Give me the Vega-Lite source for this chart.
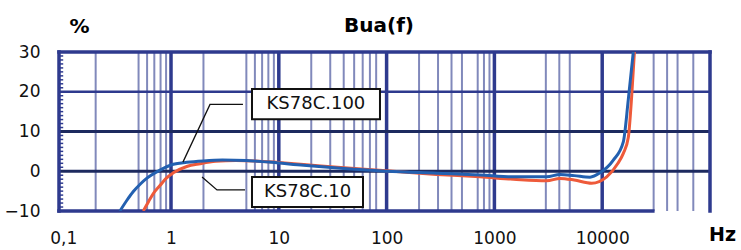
{
  "$schema": "https://vega.github.io/schema/vega-lite/v6.json",
  "width": 651,
  "height": 159,
  "autosize": "none",
  "padding": {"left": 59, "top": 52, "right": 31, "bottom": 39},
  "background": "white",
  "config": {
    "view": {"stroke": null},
    "axis": {"grid": false, "domain": false, "ticks": false, "labelFont": "DejaVu Sans", "labelFontSize": 17, "labelColor": "#111111", "titleFont": "DejaVu Sans", "titleFontWeight": "bold", "titleColor": "#000000"}
  },
  "datasets": {
    "minor": [
      {"f": 0.2, "v": -10, "v2": 30}, {"f": 0.5, "v": -10, "v2": 30}, {"f": 0.6, "v": -10, "v2": 30}, {"f": 0.7, "v": -10, "v2": 30}, {"f": 0.8, "v": -10, "v2": 30}, {"f": 0.9, "v": -10, "v2": 30},
      {"f": 2, "v": -10, "v2": 30}, {"f": 5, "v": -10, "v2": 30}, {"f": 6, "v": -10, "v2": 30}, {"f": 7, "v": -10, "v2": 30}, {"f": 8, "v": -10, "v2": 30}, {"f": 9, "v": -10, "v2": 30},
      {"f": 20, "v": -10, "v2": 30}, {"f": 30, "v": -10, "v2": 30}, {"f": 40, "v": -10, "v2": 30}, {"f": 50, "v": -10, "v2": 30}, {"f": 60, "v": -10, "v2": 30}, {"f": 70, "v": -10, "v2": 30}, {"f": 80, "v": -10, "v2": 30},
      {"f": 200, "v": -10, "v2": 30}, {"f": 300, "v": -10, "v2": 30}, {"f": 400, "v": -10, "v2": 30}, {"f": 500, "v": -10, "v2": 30}, {"f": 700, "v": -10, "v2": 30}, {"f": 800, "v": -10, "v2": 30}, {"f": 900, "v": -10, "v2": 30},
      {"f": 3000, "v": -10, "v2": 30}, {"f": 4000, "v": -10, "v2": 30}, {"f": 5000, "v": -10, "v2": 30},
      {"f": 30000, "v": -10, "v2": 30}, {"f": 40000, "v": -10, "v2": 30}, {"f": 50000, "v": -10, "v2": 30}, {"f": 70000, "v": -10, "v2": 30}
    ],
    "major": [
      {"f": 1, "v": -10, "v2": 30}, {"f": 10, "v": -10, "v2": 30}, {"f": 100, "v": -10, "v2": 30}, {"f": 1000, "v": -10, "v2": 30}, {"f": 10000, "v": -10, "v2": 30}
    ],
    "hdark": [
      {"f": 0.0914, "f2": 100000, "v": 0}, {"f": 0.0914, "f2": 100000, "v": 10}
    ],
    "hlight": [
      {"f": 0.0914, "f2": 100000, "v": 20}
    ],
    "yticks": [
      {"f": 0.0914, "f2": 0.1, "v": -9}, {"f": 0.0914, "f2": 0.1, "v": -8}, {"f": 0.0914, "f2": 0.1, "v": -7}, {"f": 0.0914, "f2": 0.1, "v": -6}, {"f": 0.0914, "f2": 0.1, "v": -5}, {"f": 0.0914, "f2": 0.1, "v": -4}, {"f": 0.0914, "f2": 0.1, "v": -3}, {"f": 0.0914, "f2": 0.1, "v": -2}, {"f": 0.0914, "f2": 0.1, "v": -1},
      {"f": 0.0914, "f2": 0.1, "v": 1}, {"f": 0.0914, "f2": 0.1, "v": 2}, {"f": 0.0914, "f2": 0.1, "v": 3}, {"f": 0.0914, "f2": 0.1, "v": 4}, {"f": 0.0914, "f2": 0.1, "v": 5}, {"f": 0.0914, "f2": 0.1, "v": 6}, {"f": 0.0914, "f2": 0.1, "v": 7}, {"f": 0.0914, "f2": 0.1, "v": 8}, {"f": 0.0914, "f2": 0.1, "v": 9},
      {"f": 0.0914, "f2": 0.1, "v": 11}, {"f": 0.0914, "f2": 0.1, "v": 12}, {"f": 0.0914, "f2": 0.1, "v": 13}, {"f": 0.0914, "f2": 0.1, "v": 14}, {"f": 0.0914, "f2": 0.1, "v": 15}, {"f": 0.0914, "f2": 0.1, "v": 16}, {"f": 0.0914, "f2": 0.1, "v": 17}, {"f": 0.0914, "f2": 0.1, "v": 18}, {"f": 0.0914, "f2": 0.1, "v": 19},
      {"f": 0.0914, "f2": 0.1, "v": 21}, {"f": 0.0914, "f2": 0.1, "v": 22}, {"f": 0.0914, "f2": 0.1, "v": 23}, {"f": 0.0914, "f2": 0.1, "v": 24}, {"f": 0.0914, "f2": 0.1, "v": 25}, {"f": 0.0914, "f2": 0.1, "v": 26}, {"f": 0.0914, "f2": 0.1, "v": 27}, {"f": 0.0914, "f2": 0.1, "v": 28}, {"f": 0.0914, "f2": 0.1, "v": 29}
    ],
    "frame": [
      {"f": 0.0914, "f2": 0.0914, "v": -10, "v2": 30},
      {"f": 100000, "f2": 100000, "v": -10, "v2": 30},
      {"f": 0.0914, "f2": 100000, "v": 30, "v2": 30},
      {"f": 0.0914, "f2": 29500, "v": -10, "v2": -10}
    ],
    "red": [
      {"f": 0.553, "v": -10}, {"f": 0.62, "v": -7.6}, {"f": 0.69, "v": -5.5}, {"f": 0.79, "v": -3.6}, {"f": 0.9, "v": -1.8}, {"f": 1.05, "v": -0.4}, {"f": 1.4, "v": 1.2}, {"f": 1.86, "v": 1.9}, {"f": 2.6, "v": 2.5}, {"f": 4, "v": 2.7}, {"f": 6, "v": 2.6}, {"f": 10, "v": 2.2}, {"f": 17, "v": 1.7}, {"f": 35, "v": 1.0}, {"f": 100, "v": 0.1}, {"f": 290, "v": -0.8}, {"f": 735, "v": -1.4}, {"f": 1500, "v": -2.0}, {"f": 3055, "v": -2.4}, {"f": 4060, "v": -1.8}, {"f": 5500, "v": -2.2}, {"f": 7980, "v": -3.0}, {"f": 11010, "v": -1.4}, {"f": 14000, "v": 2}, {"f": 15700, "v": 4.5}, {"f": 17460, "v": 8.5}, {"f": 18760, "v": 18.8}, {"f": 19900, "v": 30}
    ],
    "blue": [
      {"f": 0.336, "v": -10}, {"f": 0.39, "v": -7.3}, {"f": 0.447, "v": -5.1}, {"f": 0.52, "v": -3.2}, {"f": 0.594, "v": -1.8}, {"f": 0.79, "v": 0.3}, {"f": 1.05, "v": 1.75}, {"f": 1.4, "v": 2.25}, {"f": 2, "v": 2.6}, {"f": 3, "v": 2.8}, {"f": 5, "v": 2.7}, {"f": 8, "v": 2.3}, {"f": 17, "v": 1.5}, {"f": 35, "v": 0.8}, {"f": 100, "v": 0}, {"f": 290, "v": -0.5}, {"f": 735, "v": -0.95}, {"f": 1500, "v": -1.4}, {"f": 3055, "v": -1.4}, {"f": 4060, "v": -0.8}, {"f": 5500, "v": -1.1}, {"f": 7710, "v": -1.5}, {"f": 9540, "v": -0.4}, {"f": 12680, "v": 2.8}, {"f": 15700, "v": 7.4}, {"f": 17460, "v": 18}, {"f": 19430, "v": 30}
    ],
    "leaders": [
      {"g": "a", "o": 1, "f": 4.65, "v": 16.8}, {"g": "a", "o": 2, "f": 2.3, "v": 16.8}, {"g": "a", "o": 3, "f": 1.29, "v": 2.3},
      {"g": "b", "o": 1, "f": 4.86, "v": -4.7}, {"g": "b", "o": 2, "f": 2.67, "v": -4.7}, {"g": "b", "o": 3, "f": 1.94, "v": -1.45}
    ],
    "boxes": [
      {"f": 5.64, "f2": 86.8, "v": 20.7, "v2": 13.1},
      {"f": 5.64, "f2": 60.4, "v": -1.45, "v2": -9.0}
    ],
    "labels": [
      {"f": 22.1, "v": 16.9, "label": "KS78C.100"},
      {"f": 18.5, "v": -5.2, "label": "KS78C.10"}
    ],
    "title": [
      {"f": 85, "v": 35, "label": "Bua(f)"}
    ]
  },
  "encoding": {
    "x": {
      "field": "f", "type": "quantitative",
      "scale": {"type": "log", "domain": [0.0914, 100000]},
      "axis": {"values": [0.1, 1, 10, 100, 1000, 10000], "labelExpr": "datum.value < 0.5 ? '0,1' : format(datum.value, 'd')", "labelBaseline": "alphabetic", "labelPadding": 32, "tickSize": 0, "labelFlush": false, "labelOverlap": false, "title": "Hz", "titleX": 663, "titleY": 29, "titleAlign": "center", "titleBaseline": "alphabetic", "titleFontSize": 19}
    },
    "y": {
      "field": "v", "type": "quantitative",
      "scale": {"domain": [-10, 30]},
      "axis": {"values": [-10, 0, 10, 20, 30], "labelPadding": 19, "tickSize": 0, "labelFlush": false, "labelOverlap": false, "title": "%", "titleAngle": 0, "titleX": 20, "titleY": -20, "titleAlign": "center", "titleBaseline": "alphabetic", "titleFontSize": 20}
    }
  },
  "layer": [
    {"data": {"name": "minor"}, "mark": {"type": "rule", "color": "#8189bb", "strokeWidth": 2}, "encoding": {"y2": {"field": "v2"}}},
    {"data": {"name": "major"}, "mark": {"type": "rule", "color": "#2e3a8e", "strokeWidth": 3.5}, "encoding": {"y2": {"field": "v2"}}},
    {"data": {"name": "hlight"}, "mark": {"type": "rule", "color": "#2e3a8e", "strokeWidth": 2.5}, "encoding": {"x2": {"field": "f2"}}},
    {"data": {"name": "hdark"}, "mark": {"type": "rule", "color": "#1d2a5f", "strokeWidth": 3}, "encoding": {"x2": {"field": "f2"}}},
    {"data": {"name": "yticks"}, "mark": {"type": "rule", "color": "#2e3a8e", "strokeWidth": 1.5}, "encoding": {"x2": {"field": "f2"}}},
    {"data": {"name": "frame"}, "mark": {"type": "rule", "color": "#2e3a8e", "strokeWidth": 3.5, "strokeCap": "square"}, "encoding": {"x2": {"field": "f2"}, "y2": {"field": "v2"}}},
    {"data": {"name": "red"}, "mark": {"type": "line", "color": "#ee5a3a", "strokeWidth": 3, "interpolate": "monotone", "clip": true}},
    {"data": {"name": "blue"}, "mark": {"type": "line", "color": "#2360b0", "strokeWidth": 3, "interpolate": "monotone", "clip": true}},
    {"data": {"name": "leaders"}, "mark": {"type": "line", "color": "#111111", "strokeWidth": 1.3}, "encoding": {"detail": {"field": "g"}, "order": {"field": "o"}}},
    {"data": {"name": "boxes"}, "mark": {"type": "rect", "fill": "white", "stroke": "#111111", "strokeWidth": 2}, "encoding": {"x2": {"field": "f2"}, "y2": {"field": "v2"}}},
    {"data": {"name": "labels"}, "mark": {"type": "text", "font": "DejaVu Sans", "fontSize": 18, "color": "#111111", "align": "center", "baseline": "middle"}, "encoding": {"text": {"field": "label"}}},
    {"data": {"name": "title"}, "mark": {"type": "text", "font": "DejaVu Sans", "fontSize": 20, "fontWeight": "bold", "color": "#000000", "align": "center", "baseline": "alphabetic"}, "encoding": {"text": {"field": "label"}}}
  ]
}
